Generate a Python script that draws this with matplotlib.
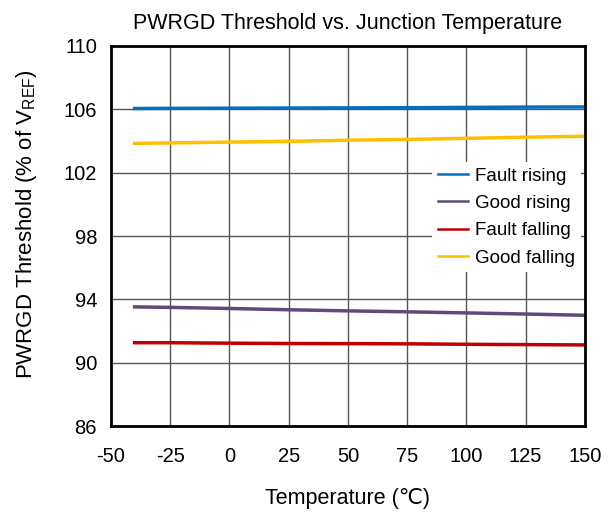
import matplotlib
matplotlib.use('Agg')
import matplotlib.pyplot as plt

plt.rcParams['font.family'] = ['Liberation Sans', 'DejaVu Sans']
plt.rcParams['mathtext.fontset'] = 'custom'
plt.rcParams['mathtext.rm'] = 'Liberation Sans'
plt.rcParams['mathtext.it'] = 'Liberation Sans:italic'
plt.rcParams['axes.unicode_minus'] = False

temp = [-40, -25, 0, 25, 50, 75, 100, 125, 150]
fault_rising = [106.05, 106.06, 106.07, 106.08, 106.09, 106.10, 106.12, 106.14, 106.15]
good_rising = [93.53, 93.50, 93.43, 93.35, 93.28, 93.22, 93.15, 93.08, 93.00]
fault_falling = [91.27, 91.27, 91.24, 91.22, 91.21, 91.20, 91.17, 91.15, 91.13]
good_falling = [103.85, 103.88, 103.93, 103.98, 104.05, 104.10, 104.17, 104.24, 104.30]

x_ticks = [-50, -25, 0, 25, 50, 75, 100, 125, 150]
y_ticks = [86, 90, 94, 98, 102, 106, 110]

fig = plt.figure(figsize=(6.13, 5.16), dpi=100)
ax = fig.add_axes([0.181, 0.174, 0.773, 0.737])

ax.plot(temp, fault_rising, color='#0070C0', lw=2.5, label='Fault rising')
ax.plot(temp, good_rising, color='#604A7B', lw=2.5, label='Good rising')
ax.plot(temp, fault_falling, color='#C00000', lw=2.5, label='Fault falling')
ax.plot(temp, good_falling, color='#FFC000', lw=2.5, label='Good falling')

ax.set_xlim(-50, 150)
ax.set_ylim(86, 110)
ax.set_xticks(x_ticks)
ax.set_yticks(y_ticks)
ax.grid(True, color='#555555', lw=1)
ax.set_axisbelow(True)
ax.tick_params(length=0, labelsize=14.5)
ax.tick_params(axis='x', pad=15)
ax.tick_params(axis='y', pad=10)
for s in ax.spines.values():
    s.set_linewidth(2)
    s.set_color('black')

ax.set_title('PWRGD Threshold vs. Junction Temperature', fontsize=15.5, pad=12)
ax.set_xlabel('Temperature (\u2103)', fontsize=15.5, labelpad=16)
ax.set_ylabel(r'PWRGD Threshold (% of V$_{\mathrm{REF}}$)', fontsize=16, labelpad=18)
ax.yaxis.label.set_y(0.53)

leg = ax.legend(loc='upper right', bbox_to_anchor=(1.012, 0.72), fontsize=13.5,
                frameon=True, fancybox=False, handlelength=1.6,
                labelspacing=0.55, borderpad=0.3, handletextpad=0.4)
leg.get_frame().set_edgecolor('none')
leg.get_frame().set_facecolor('white')
leg.get_frame().set_alpha(1)
for line in leg.get_lines():
    line.set_linewidth(1.8)

fig.savefig('out.png', dpi=100)
